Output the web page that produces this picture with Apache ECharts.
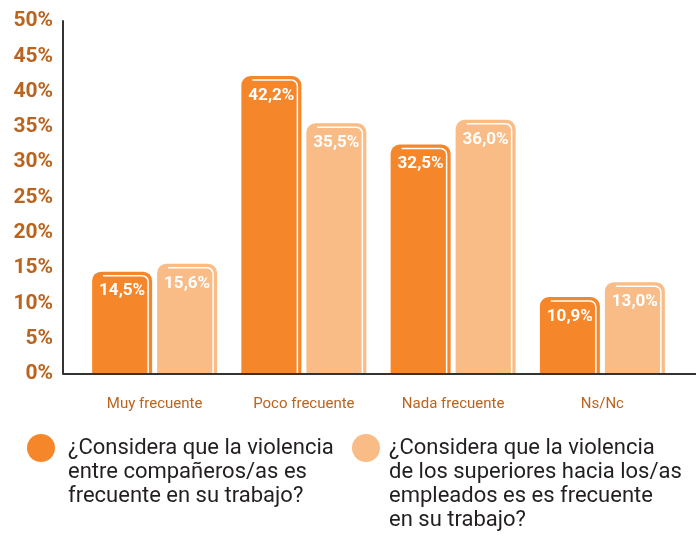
<!DOCTYPE html>
<html>
<head>
<meta charset="utf-8">
<script src="https://cdn.jsdelivr.net/npm/echarts@6/dist/echarts.min.js"></script>
<style>
  html, body { margin: 0; padding: 0; background: #fff; }
  #main { width: 696px; height: 539px; }
</style>
</head>
<body>
<div id="main"></div>
<script>
var categories = ['Muy frecuente', 'Poco frecuente', 'Nada frecuente', 'Ns/Nc'];
var companeros = [14.5, 42.2, 32.5, 10.9];
var superiores = [15.6, 35.5, 36.0, 13.0];
var yMin = 0, yMax = 50, yStep = 5;
var seriesNames = [
  '¿Considera que la violencia\nentre compañeros/as es\nfrecuente en su trabajo?',
  '¿Considera que la violencia\nde los superiores hacia los/as\nempleados es es frecuente\nen su trabajo?'
];

var DARK = '#F5862A';
var LIGHT = '#F9BC86';
var BROWN = '#B9641F';
var BAR_W = 60;
var GAP = 5;

var chart = echarts.init(document.getElementById('main'), null, { renderer: 'canvas' });

function pct(p) {
  return p.value.toFixed(1).replace('.', ',') + '%';
}

// white inner highlight line along top and right edge of each bar
function highlight(side) {
  return function (params, api) {
    var i = api.value(0), v = api.value(1);
    var base = api.coord([i, 0]);
    var top = api.coord([i, v]);
    var left = side === 0 ? base[0] - BAR_W - GAP / 2 : base[0] + GAP / 2;
    var right = left + BAR_W;
    var inset = 4, rad = 6;
    var ty = top[1] + inset;
    var rx = right - inset;
    var st = { stroke: '#fff', lineWidth: 1.5, fill: null };
    return {
      type: 'group',
      children: [
        { type: 'line', shape: { x1: left + 11, y1: ty, x2: rx - rad, y2: ty }, style: st },
        { type: 'arc', shape: { cx: rx - rad, cy: ty + rad, r: rad, startAngle: -Math.PI / 2, endAngle: 0, clockwise: true }, style: st },
        { type: 'line', shape: { x1: rx, y1: ty + rad, x2: rx, y2: base[1] }, style: st }
      ]
    };
  };
}

function pairs(arr) {
  return arr.map(function (v, i) { return [i, v]; });
}

// legend text is centred on the icon; pad with empty lines above so the first line sits beside it
function topAlign(name) {
  var n = name.split('\n').length;
  return new Array(n).join('\n') + name;
}

var legendText = { fontFamily: 'Roboto', fontSize: 22, color: '#231f20', lineHeight: 24 };

var option = {
  animation: false,
  grid: { left: 80, right: 19, top: 21, bottom: 165 },
  legend: [
    {
      left: 22, top: 383,
      icon: 'circle', itemWidth: 28, itemHeight: 28,
      data: [{ name: seriesNames[0] }],
      formatter: topAlign,
      textStyle: Object.assign({ padding: [0, 0, 0, 8] }, legendText)
    },
    {
      left: 347, top: 359,
      icon: 'circle', itemWidth: 28, itemHeight: 28,
      data: [{ name: seriesNames[1] }],
      formatter: topAlign,
      textStyle: Object.assign({ padding: [0, 0, 0, 4] }, legendText)
    }
  ],
  xAxis: {
    type: 'category',
    data: categories,
    axisLine: { show: false },
    axisTick: { show: false },
    axisLabel: { color: BROWN, fontFamily: 'Roboto', fontSize: 15, margin: 23 }
  },
  yAxis: {
    type: 'value',
    min: yMin, max: yMax, interval: yStep,
    offset: 17,
    axisLine: { show: true, lineStyle: { color: '#333', width: 2 } },
    axisTick: { show: false },
    splitLine: { show: false },
    axisLabel: {
      formatter: '{value}%', color: BROWN, fontFamily: 'Roboto',
      fontWeight: 'bold', fontSize: 21, margin: 10
    }
  },
  graphic: [
    { type: 'line', shape: { x1: 63, y1: 374, x2: 696, y2: 374 }, style: { stroke: '#333', lineWidth: 2 }, z: 10 }
  ],
  series: [
    {
      name: seriesNames[0], type: 'bar', data: companeros,
      barWidth: BAR_W, barGap: (GAP / BAR_W * 100) + '%',
      itemStyle: { color: DARK, borderRadius: [9, 9, 0, 0] },
      label: {
        show: true, position: 'insideTop', distance: 11, formatter: pct,
        color: '#fff', fontFamily: 'Roboto', fontWeight: 'bold', fontSize: 17
      }
    },
    {
      name: seriesNames[1], type: 'bar', data: superiores,
      barWidth: BAR_W,
      itemStyle: { color: LIGHT, borderRadius: [9, 9, 0, 0] },
      label: {
        show: true, position: 'insideTop', distance: 11, formatter: pct,
        color: '#fff', fontFamily: 'Roboto', fontWeight: 'bold', fontSize: 17
      }
    },
    {
      type: 'custom', renderItem: highlight(0), data: pairs(companeros),
      silent: true, z: 3, tooltip: { show: false }
    },
    {
      type: 'custom', renderItem: highlight(1), data: pairs(superiores),
      silent: true, z: 3, tooltip: { show: false }
    }
  ]
};
chart.setOption(option);
</script>
</body>
</html>
